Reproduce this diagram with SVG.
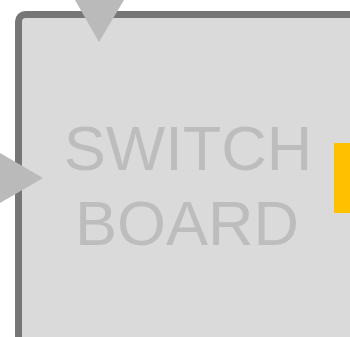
<svg xmlns="http://www.w3.org/2000/svg" width="350" height="337" viewBox="0 0 350 337">
<style>
.box{fill:#dadada;stroke:#767676;stroke-width:7}
.lbl{font-family:"Liberation Sans",Arial,sans-serif;font-size:63px;fill:#bdbdbd;text-anchor:middle}
.port{fill:#bababa}
</style>
<g id="switchboard">
<rect class="box" x="18.5" y="14.5" width="400" height="400" rx="7"/>
<text class="lbl" x="188" y="170">SWITCH</text>
<text class="lbl" x="187" y="245">BOARD</text>
</g>
<g id="connectors">
<polygon class="port" points="75,0 124,0 99,42"/>
<polygon class="port" points="0,153 43,178 0,203"/>
</g>
<g id="indicator">
<rect x="334" y="143" width="20" height="70" fill="#ffc000"/>
</g>
</svg>
